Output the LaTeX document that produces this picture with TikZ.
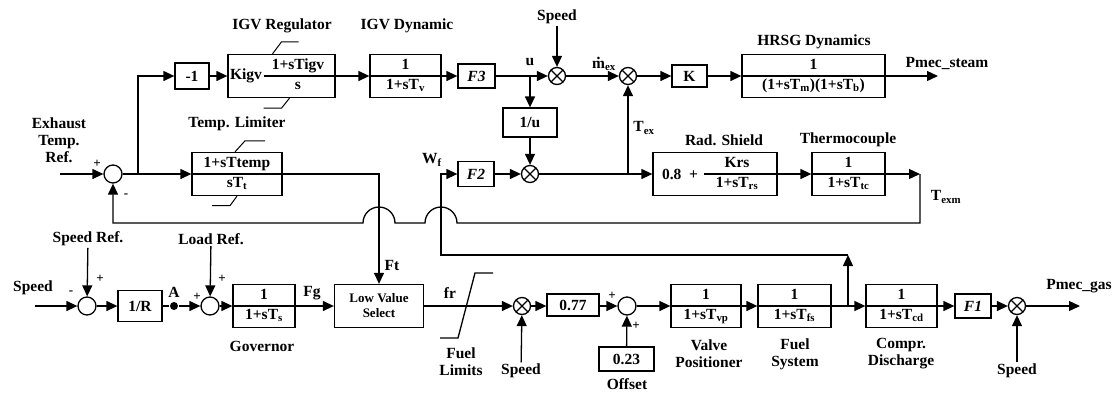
\documentclass[tikz,border=0pt]{standalone}
\usepackage{fontspec}
\setmainfont{Liberation Serif}
\usepackage{tikz}
\usetikzlibrary{arrows.meta,positioning,calc}
\newcommand{\frc}[2]{\begin{tabular}{@{}c@{}}\rule[-7pt]{0pt}{19pt}#1\\\rule[-6pt]{0pt}{19pt}#2\end{tabular}}
\newcommand{\subtx}[1]{\textsubscript{#1}}
\newcommand{\mflow}{\rlap{\hspace{0.29em}\raisebox{0.62em}{.}}m}

\begin{document}
\begin{tikzpicture}[x=1pt, y=-1pt, line width=1.3pt,
    every node/.style={font=\fontsize{15.5}{17}\selectfont\bfseries, inner sep=1pt},
    box/.style={draw, minimum height=43pt, inner sep=0pt},
    tf/.style={box, path picture={\draw (path picture bounding box.west) -- (path picture bounding box.east);}},
    sum/.style={draw, circle, minimum size=18pt, inner sep=0pt},
    mul/.style={sum, minimum size=17pt, path picture={\draw (path picture bounding box.south west) -- (path picture bounding box.north east) (path picture bounding box.north west) -- (path picture bounding box.south east);}},
    sgn/.style={font=\fontsize{13}{13}\selectfont\bfseries},
    arr/.style={-{Triangle[length=11pt,width=10pt]}},
]
\useasboundingbox (0,0) rectangle (1120,392);

% exhaust temperature / IGV loop
\node[align=center] (exlab) at (59,140) {Exhaust\\Temp.\\Ref.};
\coordinate (exin) at (60,174);
\node[sum] (sumT) at (113,174) {};
\node[sgn] (sumTp) at (97,164) {+};
\node[sgn] (sumTm) at (126,196) {-};
\coordinate (brT) at (138,174);
\node[box, minimum width=34pt, minimum height=26pt] (neg) at (192,76) {-1};
\node[box, minimum width=107pt] (igvreg) at (281.5,76) {};
\node (kigv) at (246,76) {Kigv};
\node[inner sep=0pt] (igvfrac) at (298,76) {\frc{1+sTigv}{s}};
\node (igvreglab) at (282,26) {IGV Regulator};
\node[tf, minimum width=71pt] (igvdyn) at (405.5,76) {\frc{1}{1+sT\subtx{v}}};
\node (igvdynlab) at (407,26) {IGV Dynamic};
\node[box, minimum width=37pt, minimum height=24pt] (f3) at (476.5,76) {\textit{F3}};
\coordinate (ubr) at (530,76);
\node (ulab) at (530,62) {u};
\node[mul] (mulS) at (557,76) {};
\node (spdS) at (557,17) {Speed};
\node[mul] (mulT) at (628,76) {};
\node (mexlab) at (604,64) {\mflow\subtx{ex}};
\node[box, minimum width=35pt, minimum height=22pt] (kbox) at (689.5,76) {K};
\node[tf, minimum width=143pt] (hrsg) at (813.5,76) {\frc{1}{(1+sT\subtx{m})(1+sT\subtx{b})}};
\node (hrsglab) at (814,42) {HRSG Dynamics};
\coordinate (steam) at (938,76);
\node (steamlab) at (947,63) {Pmec\_steam};

\node[box, minimum width=54pt, minimum height=29pt] (inv) at (530,122.5) {1/u};
\node[mul] (mulW) at (530,174) {};
\node[box, minimum width=36pt, minimum height=25pt] (f2) at (476,174) {\textit{F2}};
\node (wflab) at (432,160) {W\subtx{f}};
\coordinate (wfb) at (441,174);
\coordinate (brX) at (628,174);
\node (texlab) at (644,128) {T\subtx{ex}};
\node[box, minimum width=124pt] (rad) at (715,174) {};
\node (radc) at (680,174) {0.8\ \ +};
\node[inner sep=0pt, minimum width=64pt] (radfrac) at (737,174) {\frc{Krs}{1+sT\subtx{rs}}};
\node (radlab) at (724,140) {Rad. Shield};
\node[tf, minimum width=73pt] (tc) at (848.5,174) {\frc{1}{1+sT\subtx{tc}}};
\node (tclab) at (848,140) {Thermocouple};
\coordinate (texc) at (920,174);
\coordinate (texd) at (920,223);
\node (texmlab) at (946,197) {T\subtx{exm}};
\coordinate (fbL) at (113,223);

\node[tf, minimum width=90pt] (tl) at (237,174) {\frc{1+sTtemp}{sT\subtx{t}}};
\node (tllab) at (237,124) {Temp. Limiter};
\coordinate (ftc) at (379,174);
\node (ftlab) at (392,265) {Ft};

% limiter marks
\draw[line width=1pt] (igvreg.north) ++(-9,0) -- ++(9,-12) -- ++(17,0);
\draw[line width=1pt] (igvreg.south) ++(8,0) -- ++(-8,10) -- ++(-18,0);
\draw[line width=1pt] (tl.north) ++(-2,0) -- ++(10,-11) -- ++(20,0);
\draw[line width=1pt] (tl.south) -- ++(-7,9.5) -- ++(-18,0);

% governor / fuel path
\coordinate (spdin) at (35,306);
\node (spdlab) at (33,288) {Speed};
\node[sum] (sumS) at (87,306) {};
\node (spdref) at (88,239) {Speed Ref.};
\node[sgn] (sumSm) at (71,293) {-};
\node[sgn] (sumSp) at (100,279) {+};
\node[box, minimum width=44pt, minimum height=31pt] (rinv) at (140,306) {1/R};
\node[circle, fill, inner sep=0pt, minimum size=8pt] (dotA) at (174,306) {};
\node (alab) at (174,292) {A};
\node[sum] (sumL) at (210,306) {};
\node (loadref) at (211,239) {Load Ref.};
\node[sgn] (sumLp) at (197,297) {+};
\node[sgn] (sumLq) at (222,279) {+};
\node[tf, minimum width=62pt] (gov) at (264,306) {\frc{1}{1+sT\subtx{s}}};
\node (govlab) at (262,346) {Governor};
\node (fglab) at (312,293) {Fg};
\node[box, minimum width=89pt, align=center, font=\fontsize{13}{15}\selectfont\bfseries] (lvs) at (379,306) {Low Value\\Select};
\node (frlab) at (450,293) {fr};
\draw (440,338) -- (458,338) -- (475,273) -- (493,273);
\node[align=center] (fuellim) at (461,362) {Fuel\\Limits};
\node[mul] (mulF) at (522,306) {};
\node (spdF) at (521,371) {Speed};
\node[box, minimum width=52pt, minimum height=22pt] (g077) at (573,305) {0.77};
\node[sum] (sumO) at (627,306) {};
\node[sgn] (sumOp) at (612,296) {+};
\node[sgn] (sumOq) at (636,326) {+};
\node[box, minimum width=55pt, minimum height=24pt] (g023) at (626.5,359) {0.23};
\node (offlab) at (627,384) {Offset};
\node[tf, minimum width=70pt] (vp) at (706,306) {\frc{1}{1+sT\subtx{vp}}};
\node[align=center] (vplab) at (709,354) {Valve\\Positioner};
\node[tf, minimum width=73pt] (fs) at (794.5,306) {\frc{1}{1+sT\subtx{fs}}};
\node[align=center] (fslab) at (795,354) {Fuel\\System};
\coordinate (brF) at (848,306);
\coordinate (wfc) at (848,255);
\node[tf, minimum width=71pt] (cd) at (901.5,306) {\frc{1}{1+sT\subtx{cd}}};
\node[align=center] (cdlab) at (901,354) {Compr.\\Discharge};
\node[box, minimum width=36pt, minimum height=24pt] (f1) at (973,306) {\textit{F1}};
\node[mul] (mulG) at (1017,306) {};
\node (spdG) at (1017,371) {Speed};
\coordinate (gas) at (1080,306);
\node (gaslab) at (1079,286) {Pmec\_gas};

% connectors, upper part
\draw[arr] (exin) -- (sumT);
\draw[arr] (sumT) -- (tl);
\draw[arr] (brT) |- (neg);
\draw[arr] (neg) -- (igvreg);
\draw[arr] (kigv.east) -- (igvdyn);
\draw[arr] (igvdyn) -- (f3);
\draw[arr] (f3) -- (mulS);
\draw[arr] (ubr) -- (inv);
\draw[arr] (spdS) -- (mulS);
\draw[arr] (mulS) -- (mulT);
\draw[arr] (mulT) -- (kbox);
\draw[arr] (kbox) -- (hrsg);
\draw[arr] (hrsg) -- (steam);
\draw[arr] (inv) -- (mulW);
\draw[arr] (f2) -- (mulW);
\draw[arr] (wfc) -| (wfb) -- (f2);
\draw[arr] (mulW) -- (rad);
\draw[arr] (brX) -- (mulT);
\draw[arr] (radfrac.west) -- (tc);
\draw[arr] (tc) -- (texc);
\draw[arr] (texc) -- (texd) -- ($(wfb|-fbL)+(16,0)$) arc[start angle=0, end angle=180, radius=16pt]
    -- ($(ftc|-fbL)+(16,0)$) arc[start angle=0, end angle=180, radius=16pt] -- (fbL) -- (sumT);
\draw[arr] (tl.east) -- (ftc) -- (lvs);

% connectors, lower part
\draw[arr] (spdin) -- (sumS);
\draw[arr] (spdref) -- (sumS);
\draw[arr] (sumS) -- (rinv);
\draw (rinv) -- (dotA);
\draw[arr] (dotA) -- (sumL);
\draw[arr] (loadref) -- (sumL);
\draw[arr] (sumL) -- (gov);
\draw[arr] (gov) -- (lvs);
\draw[arr] (lvs) -- (mulF);
\draw[arr] (spdF) -- (mulF);
\draw[arr] (mulF) -- (mulF -| g077.west);
\draw[arr] (sumO -| g077.east) -- (sumO);
\draw[arr] (g023) -- (sumO);
\draw[arr] (sumO) -- (vp);
\draw[arr] (vp) -- (fs);
\draw[arr] (fs) -- (cd);
\draw[arr] (brF) -- (wfc);
\draw[arr] (cd) -- (f1);
\draw[arr] (f1) -- (mulG);
\draw[arr] (spdG) -- (mulG);
\draw[arr] (mulG) -- (gas);
\end{tikzpicture}
\end{document}
